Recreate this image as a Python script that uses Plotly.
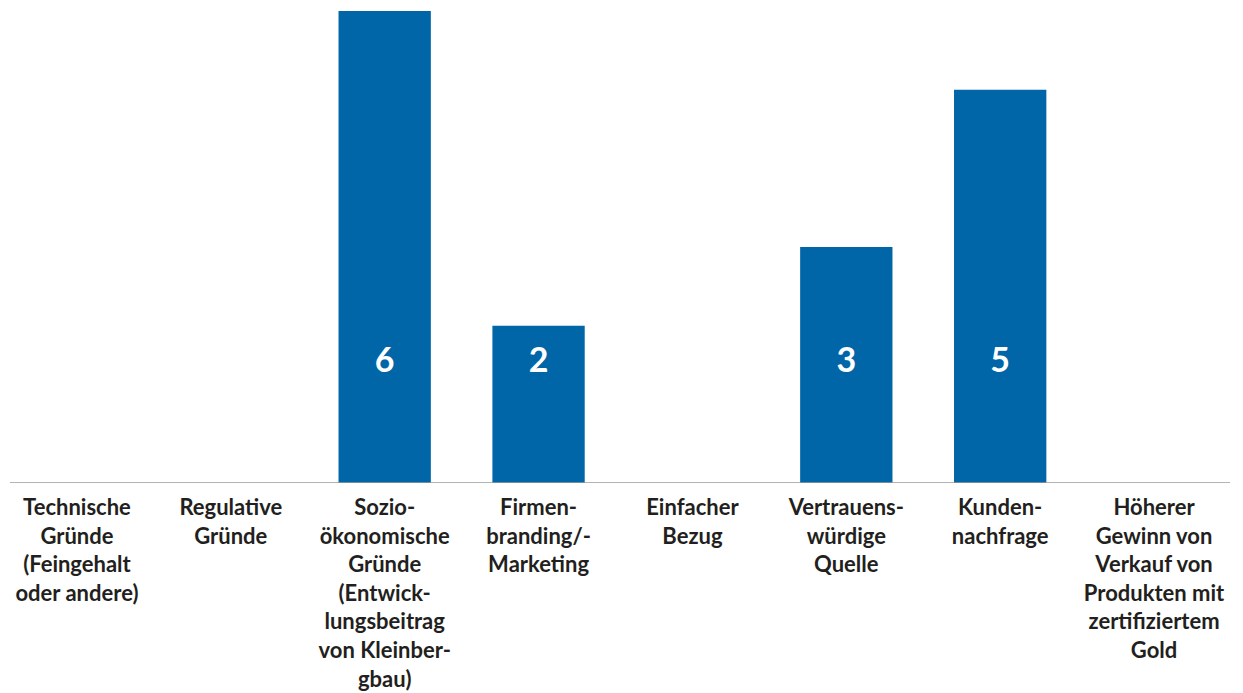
import plotly.graph_objects as go

categories = [
    "Technische<br>Gründe<br>(Feingehalt<br>oder andere)",
    "Regulative<br>Gründe",
    "Sozio-<br>ökonomische<br>Gründe<br>(Entwick-<br>lungsbeitrag<br>von Kleinber-<br>gbau)",
    "Firmen-<br>branding/-<br>Marketing",
    "Einfacher<br>Bezug",
    "Vertrauens-<br>würdige<br>Quelle",
    "Kunden-<br>nachfrage",
    "Höherer<br>Gewinn von<br>Verkauf von<br>Produkten mit<br>zertifiziertem<br>Gold",
]
values = [0, 0, 6, 2, 0, 3, 5, 0]

BAR_COLOR = "#0066a7"
TEXT_COLOR = "#231f20"
FONT = "Lato"
LABEL_Y = 1.52

fig = go.Figure()
fig.add_trace(go.Bar(
    x=list(range(len(categories))), y=values,
    marker=dict(color=BAR_COLOR, line=dict(width=0)),
    hoverinfo="skip", showlegend=False,
))
lab_x = [i for i, v in enumerate(values) if v > 0]
lab_t = [str(v) for v in values if v > 0]
fig.add_trace(go.Scatter(
    x=lab_x, y=[LABEL_Y] * len(lab_x), text=lab_t, mode="text",
    textposition="middle center",
    textfont=dict(family=FONT, size=34, color="white", weight="bold"),
    hoverinfo="skip", showlegend=False,
))

fig.add_shape(type="line", xref="paper", yref="y", x0=0.0016, x1=0.9927, y0=0, y1=0,
              line=dict(color="#9a9a9a", width=1.5), layer="above")

fig.update_layout(
    width=1243, height=693,
    margin=dict(l=0, r=12, t=0, b=217.5),
    paper_bgcolor="white", plot_bgcolor="white",
    bargap=0.4,
    font=dict(family=FONT, color=TEXT_COLOR),
    xaxis=dict(
        tickmode="array", tickvals=list(range(len(categories))), ticktext=categories,
        range=[-0.448, 7.552], showgrid=False, zeroline=False,
        showline=False,
        ticks="", tickangle=0, ticklabelstandoff=9,
        tickfont=dict(family=FONT, size=22, color=TEXT_COLOR, weight="bold"),
    ),
    yaxis=dict(range=[0, 6.038], visible=False, showgrid=False, zeroline=False),
)

fig.write_html("out.html")
